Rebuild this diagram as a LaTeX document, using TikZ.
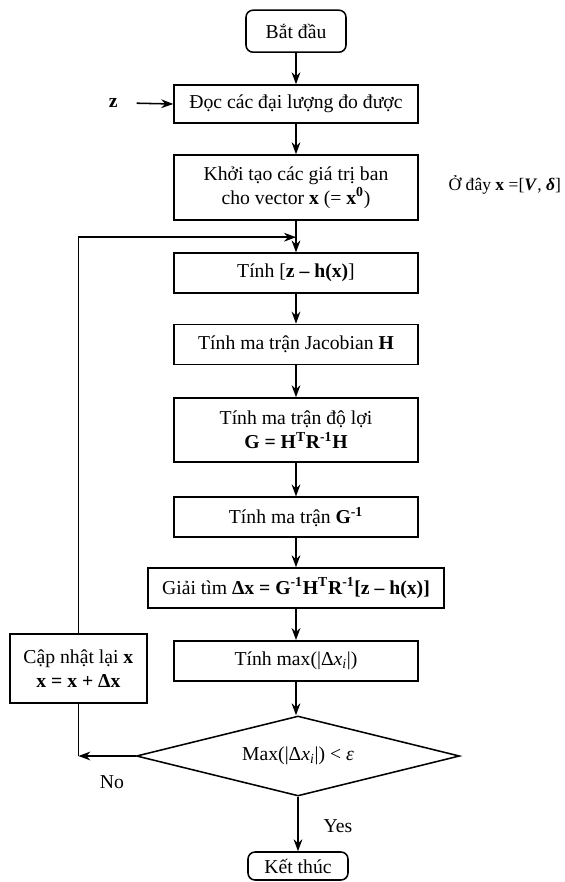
\documentclass[tikz,border=0pt]{standalone}
\usepackage{fontspec}
\setmainfont{Liberation Serif}
\usetikzlibrary{arrows.meta,positioning,calc,shapes.geometric}
\tikzset{
  >=Stealth,
  box/.style={draw=black,line width=1.1pt,fill=white,align=center,text=black,font=\fontsize{14}{17}\selectfont,minimum width=6.1cm,minimum height=1cm,inner sep=2pt},
  term/.style={box,rounded corners=5pt,minimum width=2.5cm,minimum height=1.05cm},
  decision/.style={diamond,aspect=4,draw=black,line width=1.1pt,fill=white,font=\fontsize{14}{17}\selectfont,minimum width=8.08cm,minimum height=2cm,inner sep=0pt},
  label/.style={font=\fontsize{14}{17}\selectfont,text=black,align=center},
  flow/.style={->,line width=1.1pt,draw=black,>={Stealth[length=3mm,width=2.2mm]}},
  plain/.style={line width=1.1pt,draw=black}
}
\begin{document}
\begin{tikzpicture}[x=1cm,y=1cm]
  \useasboundingbox (0,0) rectangle (14.1,-22.05);
  % main column
  \node[term] (start) at (7.4,-0.78) {Bắt đầu};
  \node[box,minimum height=0.95cm] (read) at (7.4,-2.6) {Đọc các đại lượng đo được};
  \node[box,minimum height=1.63cm] (init) at (7.4,-4.69) {Khởi tạo các giá trị ban\\cho vector \textbf{x} (= \textbf{x}\textsuperscript{\textbf{0}})};
  \node[box] (resid) at (7.4,-6.83) {Tính [\textbf{z – h(x)}]};
  \node[box] (jac) at (7.4,-8.61) {Tính ma trận Jacobian \textbf{H}};
  \node[box,minimum height=1.6cm] (gain) at (7.4,-10.75) {Tính ma trận độ lợi\\\textbf{G = H\textsuperscript{T}R\textsuperscript{-1}H}};
  \node[box] (ginv) at (7.4,-12.93) {Tính ma trận \textbf{G\textsuperscript{-1}}};
  \node[box,minimum width=7.4cm] (solve) at (7.4,-14.7) {Giải tìm \textbf{Δx = G\textsuperscript{-1}H\textsuperscript{T}R\textsuperscript{-1}[z – h(x)]}};
  \node[box] (tmax) at (7.4,-16.52) {Tính max(|Δ\textit{x}\textsubscript{\textit{i}}|)};
  \node[decision] (dec) at (7.45,-18.9) {Max(|Δ\textit{x}\textsubscript{\textit{i}}|) < \textit{ε}};
  \node[term,minimum height=0.7cm] (end) at (7.45,-21.65) {Kết thúc};
  % side items
  \node[box,minimum width=3.43cm,minimum height=1.73cm] (update) at (1.96,-16.71) {Cập nhật lại \textbf{x}\\\textbf{x = x + Δx}};
  \node[label] (zin) at (2.83,-2.58) {\textbf{z}};
  \node[label,font=\fontsize{12.5}{15}\selectfont] (where) at (12.62,-4.63) {Ở đây \textbf{x} =[\textbf{\textit{V}}, \textbf{\textit{δ}}]};
  \node[label] (nolbl) at (2.8,-19.55) {No};
  \node[label] (yeslbl) at (8.45,-20.65) {Yes};
  \coordinate (noturn) at (update.south |- dec.west);
  \coordinate (loopin) at (7.4,-5.93);
  % connectors
  \draw[flow] (start) -- (read);
  \draw[flow] (zin.east) ++(0.35,0) -- (read.west);
  \draw[flow] (read) -- (init);
  \draw[flow] (init) -- (resid);
  \draw[flow] (resid) -- (jac);
  \draw[flow] (jac) -- (gain);
  \draw[flow] (gain) -- (ginv);
  \draw[flow] (ginv) -- (solve);
  \draw[flow] (solve) -- (tmax);
  \draw[flow] (tmax) -- (tmax |- dec.north);
  \draw[flow] (dec) -- (end);
  \draw[flow] (dec.west) -- (noturn);
  \draw[plain] (noturn) -- (update.south);
  \draw[flow] (update.north) |- (loopin);
\end{tikzpicture}
\end{document}
